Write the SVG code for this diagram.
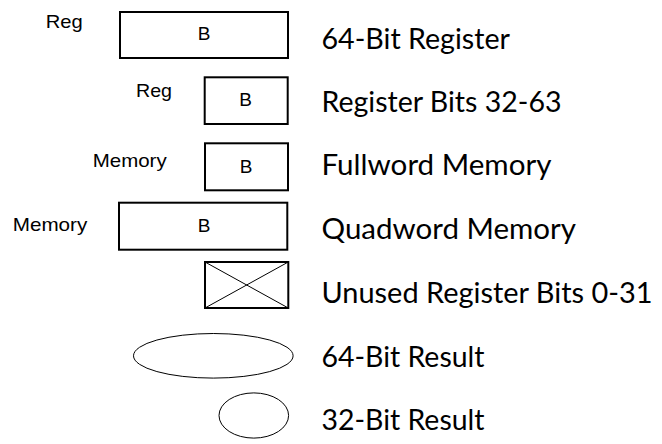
<svg xmlns="http://www.w3.org/2000/svg" width="662" height="444" viewBox="0 0 662 444">
<style>
.box{fill:#fff;stroke:#000;stroke-width:2}
.thin{fill:#fff;stroke:#000;stroke-width:1}
.ln{stroke:#000;stroke-width:1}
.sm{font-family:"Liberation Sans",Arial,sans-serif;font-size:18.5px;fill:#000}
.b{font-family:"Liberation Sans",Arial,sans-serif;font-size:19px;fill:#000;text-anchor:middle}
.lg{font-family:Lato,"Open Sans",sans-serif;font-size:28px;fill:#000}
</style>
<rect width="662" height="444" fill="#fff"/>
<g id="reg64">
<text class="sm" x="45.7" y="28.3" textLength="37" lengthAdjust="spacingAndGlyphs">Reg</text>
<rect class="box" x="120" y="12" width="168" height="46"/>
<text class="b" x="204" y="40">B</text>
</g>
<g id="reg32">
<text class="sm" x="136" y="96.7" textLength="36" lengthAdjust="spacingAndGlyphs">Reg</text>
<rect class="box" x="204.7" y="77.3" width="83" height="46.7"/>
<text class="b" x="245.7" y="106">B</text>
</g>
<g id="fullword">
<text class="sm" x="92.7" y="166.7" textLength="74" lengthAdjust="spacingAndGlyphs">Memory</text>
<rect class="box" x="205" y="143.3" width="83" height="47"/>
<text class="b" x="246" y="172.7">B</text>
</g>
<g id="quadword">
<text class="sm" x="12.7" y="230.5" textLength="74.6" lengthAdjust="spacingAndGlyphs">Memory</text>
<rect class="box" x="119" y="202.7" width="168.3" height="47"/>
<text class="b" x="204" y="232.3">B</text>
</g>
<g id="unused">
<rect class="box" x="205" y="262" width="83.3" height="46"/>
<line class="ln" x1="205" y1="262" x2="288.3" y2="308"/>
<line class="ln" x1="288.3" y1="262" x2="205" y2="308"/>
</g>
<g id="result64">
<ellipse class="thin" cx="213.3" cy="355.8" rx="79.8" ry="22.3"/>
</g>
<g id="result32">
<ellipse class="thin" cx="253.8" cy="415.5" rx="34.8" ry="22.6"/>
</g>
<g id="legend">
<text class="lg" x="321.5" y="48.5" textLength="188.5" lengthAdjust="spacingAndGlyphs">64-Bit Register</text>
<text class="lg" x="321.5" y="111.7" textLength="240" lengthAdjust="spacingAndGlyphs">Register Bits 32-63</text>
<text class="lg" x="321.5" y="175" textLength="230" lengthAdjust="spacingAndGlyphs">Fullword Memory</text>
<text class="lg" x="321.5" y="239" textLength="254.5" lengthAdjust="spacingAndGlyphs">Quadword Memory</text>
<text class="lg" x="321.5" y="303" textLength="331" lengthAdjust="spacingAndGlyphs">Unused Register Bits 0-31</text>
<text class="lg" x="321.5" y="367" textLength="163" lengthAdjust="spacingAndGlyphs">64-Bit Result</text>
<text class="lg" x="321.5" y="430.3" textLength="163" lengthAdjust="spacingAndGlyphs">32-Bit Result</text>
</g>
<g id="connectors"></g>
</svg>
